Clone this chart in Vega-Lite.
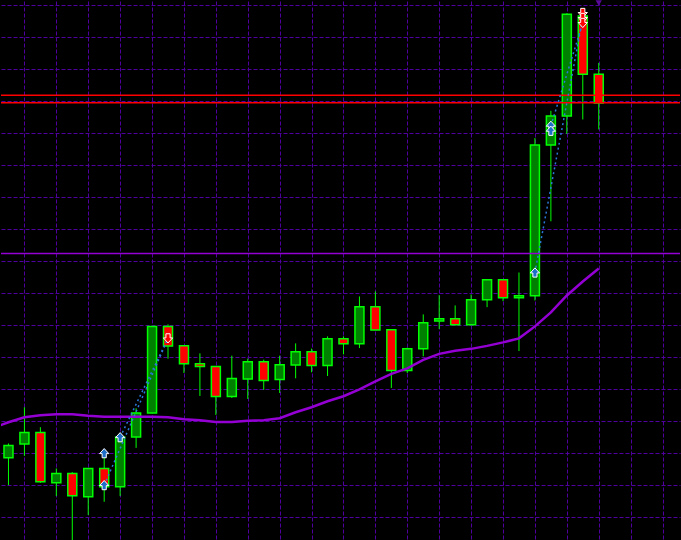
{
  "$schema": "https://vega.github.io/schema/vega-lite/v6.json",
  "width": 681,
  "height": 540,
  "autosize": {"type": "fit", "contains": "padding"},
  "padding": 0,
  "background": "#000000",
  "config": {
    "view": {"stroke": null},
    "axis": {"labels": false, "ticks": false, "domain": false, "title": null, "grid": true, "gridColor": "#50009F", "gridDash": [4, 2], "gridWidth": 1, "gridOpacity": 1, "tickCount": 200}
  },
  "datasets": {
    "candles": [
      {"i": 0, "o": 82.3, "h": 96.7, "l": 55, "c": 94.7},
      {"i": 1, "o": 96.3, "h": 133, "l": 84.3, "c": 107.7},
      {"i": 2, "o": 107.7, "h": 113, "l": 57.3, "c": 58.3},
      {"i": 3, "o": 57.3, "h": 71.7, "l": 44, "c": 66.7},
      {"i": 4, "o": 66.7, "h": 68, "l": -5, "c": 44.3},
      {"i": 5, "o": 43.3, "h": 71.7, "l": 25, "c": 71.7},
      {"i": 6, "o": 71.7, "h": 83.3, "l": 38.3, "c": 53.3},
      {"i": 7, "o": 53.3, "h": 107, "l": 44, "c": 103.3},
      {"i": 8, "o": 103.3, "h": 132, "l": 92.3, "c": 127.3},
      {"i": 9, "o": 127.3, "h": 214, "l": 127.3, "c": 214},
      {"i": 10, "o": 214, "h": 216, "l": 181.7, "c": 194.3},
      {"i": 11, "o": 194.7, "h": 194.7, "l": 167.3, "c": 176.7},
      {"i": 12, "o": 176.7, "h": 187, "l": 144.3, "c": 173.7},
      {"i": 13, "o": 173.7, "h": 173.7, "l": 125.3, "c": 143.7},
      {"i": 14, "o": 143.7, "h": 184.7, "l": 142.3, "c": 161.7},
      {"i": 15, "o": 161.3, "h": 181.7, "l": 141.3, "c": 178.7},
      {"i": 16, "o": 178.7, "h": 180.7, "l": 150.3, "c": 159.7},
      {"i": 17, "o": 160.7, "h": 184.7, "l": 147.3, "c": 175.7},
      {"i": 18, "o": 175.3, "h": 197, "l": 162, "c": 188.7},
      {"i": 19, "o": 188.7, "h": 191.7, "l": 168, "c": 174.7},
      {"i": 20, "o": 174.7, "h": 204, "l": 164.3, "c": 201.7},
      {"i": 21, "o": 201.7, "h": 204, "l": 186, "c": 196.7},
      {"i": 22, "o": 196.7, "h": 244, "l": 192.3, "c": 233.7},
      {"i": 23, "o": 233.7, "h": 249, "l": 210.3, "c": 210.3},
      {"i": 24, "o": 210.7, "h": 210.7, "l": 152.3, "c": 169.7},
      {"i": 25, "o": 169.7, "h": 192.7, "l": 167.3, "c": 191.7},
      {"i": 26, "o": 191.7, "h": 226, "l": 184, "c": 217.7},
      {"i": 27, "o": 219.3, "h": 245.3, "l": 211.3, "c": 221.7},
      {"i": 28, "o": 221.7, "h": 235, "l": 215.7, "c": 215.7},
      {"i": 29, "o": 215.7, "h": 246, "l": 215.7, "c": 240.7},
      {"i": 30, "o": 240.7, "h": 260.7, "l": 233.3, "c": 260.7},
      {"i": 31, "o": 260.7, "h": 260.7, "l": 239.3, "c": 242.7},
      {"i": 32, "o": 242.7, "h": 268, "l": 189.3, "c": 244.7},
      {"i": 33, "o": 244.7, "h": 402.7, "l": 240, "c": 395.7},
      {"i": 34, "o": 395.7, "h": 430, "l": 319.3, "c": 424.7},
      {"i": 35, "o": 424.7, "h": 527.7, "l": 406.7, "c": 526.7},
      {"i": 36, "o": 525, "h": 530, "l": 421.3, "c": 466.7},
      {"i": 37, "o": 466.7, "h": 478, "l": 411.3, "c": 437.7}
    ],
    "ma": [
      {"i": -1, "v": 112}, {"i": 0, "v": 118}, {"i": 1, "v": 123}, {"i": 2, "v": 125},
      {"i": 3, "v": 126}, {"i": 4, "v": 126}, {"i": 5, "v": 124.5}, {"i": 6, "v": 123.5},
      {"i": 7, "v": 123.5}, {"i": 8, "v": 123.5}, {"i": 9, "v": 123.5}, {"i": 10, "v": 123},
      {"i": 11, "v": 121}, {"i": 12, "v": 120}, {"i": 13, "v": 118.3}, {"i": 14, "v": 118.3},
      {"i": 15, "v": 119.5}, {"i": 16, "v": 120}, {"i": 17, "v": 122}, {"i": 18, "v": 128},
      {"i": 19, "v": 133}, {"i": 20, "v": 139}, {"i": 21, "v": 144}, {"i": 22, "v": 151},
      {"i": 23, "v": 159}, {"i": 24, "v": 166.5}, {"i": 25, "v": 172}, {"i": 26, "v": 180.5},
      {"i": 27, "v": 186.5}, {"i": 28, "v": 189.5}, {"i": 29, "v": 191.5}, {"i": 30, "v": 194.5},
      {"i": 31, "v": 198}, {"i": 32, "v": 202}, {"i": 33, "v": 214}, {"i": 34, "v": 228},
      {"i": 35, "v": 245}, {"i": 36, "v": 259}, {"i": 37, "v": 272}
    ],
    "levels": [
      {"v": 445.5, "kind": "resistance"},
      {"v": 438, "kind": "resistance"},
      {"v": 287, "kind": "pivot"}
    ],
    "signals": [
      {"i": 6, "v": 87, "dir": "up"},
      {"i": 6, "v": 55, "dir": "up"},
      {"i": 7, "v": 103, "dir": "up"},
      {"i": 33, "v": 268, "dir": "up"},
      {"i": 34, "v": 415, "dir": "up"},
      {"i": 34, "v": 410, "dir": "up"},
      {"i": 10, "v": 202, "dir": "down"},
      {"i": 36, "v": 528, "dir": "down"},
      {"i": 36, "v": 523, "dir": "down"},
      {"i": 36, "v": 518, "dir": "down"}
    ],
    "links": [
      {"seg": 1, "i": 6, "v": 55}, {"seg": 1, "i": 10, "v": 202},
      {"seg": 2, "i": 7, "v": 103}, {"seg": 2, "i": 10, "v": 202},
      {"seg": 3, "i": 33, "v": 268}, {"seg": 3, "i": 36, "v": 523},
      {"seg": 4, "i": 34, "v": 415}, {"seg": 4, "i": 36, "v": 518}
    ],
    "marker": [{"i": 37, "v": 538}]
  },
  "layer": [
    {
      "data": {"name": "candles"},
      "mark": {"type": "rule", "color": "#00FF00", "strokeWidth": 1, "clip": true},
      "encoding": {
        "x": {"field": "i", "type": "quantitative", "scale": {"domain": [-0.46875, 42.09375], "nice": false, "zero": false, "padding": 0},
              "axis": {"values": [1, 3, 5, 7, 9, 11, 13, 15, 17, 19, 21, 23, 25, 27, 29, 31, 33, 35, 37, 39, 41], "tickCount": 200}},
        "y": {"field": "l", "type": "quantitative", "scale": {"domain": [0, 540], "nice": false, "zero": false, "padding": 0},
              "axis": {"values": [23.5, 55.5, 87.5, 119.5, 151.5, 183.5, 215.5, 247.5, 279.5, 311.5, 343.5, 375.5, 407.5, 439.5, 471.5, 503.5, 535.5], "tickCount": 200}},
        "y2": {"field": "h"}
      }
    },
    {
      "data": {"name": "candles"},
      "mark": {"type": "bar", "size": 9, "stroke": "#00FF00", "strokeWidth": 1.5, "clip": true},
      "encoding": {
        "x": {"field": "i", "type": "quantitative"},
        "y": {"field": "o", "type": "quantitative"},
        "y2": {"field": "c"},
        "fill": {"condition": {"test": "datum.c >= datum.o", "value": "#008000"}, "value": "#FF0000"}
      }
    },
    {
      "data": {"name": "levels"},
      "mark": {"type": "rule", "strokeWidth": 1.5},
      "encoding": {
        "y": {"field": "v", "type": "quantitative"},
        "color": {"condition": {"test": "datum.kind === 'resistance'", "value": "#FF0000"}, "value": "#9400D3"},
        "strokeWidth": {"condition": {"test": "datum.kind === 'resistance'", "value": 1.5}, "value": 2}
      }
    },
    {
      "data": {"name": "ma"},
      "mark": {"type": "line", "color": "#9400D3", "strokeWidth": 2.5, "clip": true, "interpolate": "linear"},
      "encoding": {
        "x": {"field": "i", "type": "quantitative"},
        "y": {"field": "v", "type": "quantitative"}
      }
    },
    {
      "data": {"name": "links"},
      "mark": {"type": "line", "color": "#2A78D8", "strokeWidth": 1.5, "strokeDash": [2, 3], "clip": true},
      "encoding": {
        "x": {"field": "i", "type": "quantitative"},
        "y": {"field": "v", "type": "quantitative"},
        "detail": {"field": "seg", "type": "nominal"}
      }
    },
    {
      "data": {"name": "signals"},
      "transform": [{"filter": "datum.dir === 'up'"}],
      "mark": {"type": "point", "filled": true, "shape": "M0,-1L1,0.1L0.45,0.1L0.45,1L-0.45,1L-0.45,0.1L-1,0.1Z", "size": 85, "fill": "#1E6EC8", "stroke": "#FFFFFF", "strokeWidth": 1, "opacity": 1},
      "encoding": {
        "x": {"field": "i", "type": "quantitative"},
        "y": {"field": "v", "type": "quantitative"}
      }
    },
    {
      "data": {"name": "signals"},
      "transform": [{"filter": "datum.dir === 'down'"}],
      "mark": {"type": "point", "filled": true, "shape": "M0,1L1,-0.1L0.45,-0.1L0.45,-1L-0.45,-1L-0.45,-0.1L-1,-0.1Z", "size": 85, "fill": "#FF0000", "stroke": "#FFFFFF", "strokeWidth": 1, "opacity": 1},
      "encoding": {
        "x": {"field": "i", "type": "quantitative"},
        "y": {"field": "v", "type": "quantitative"}
      }
    },
    {
      "data": {"name": "marker"},
      "mark": {"type": "point", "filled": true, "shape": "triangle-down", "size": 40, "fill": "#5A0A9A", "opacity": 1},
      "encoding": {
        "x": {"field": "i", "type": "quantitative"},
        "y": {"field": "v", "type": "quantitative"}
      }
    }
  ]
}
